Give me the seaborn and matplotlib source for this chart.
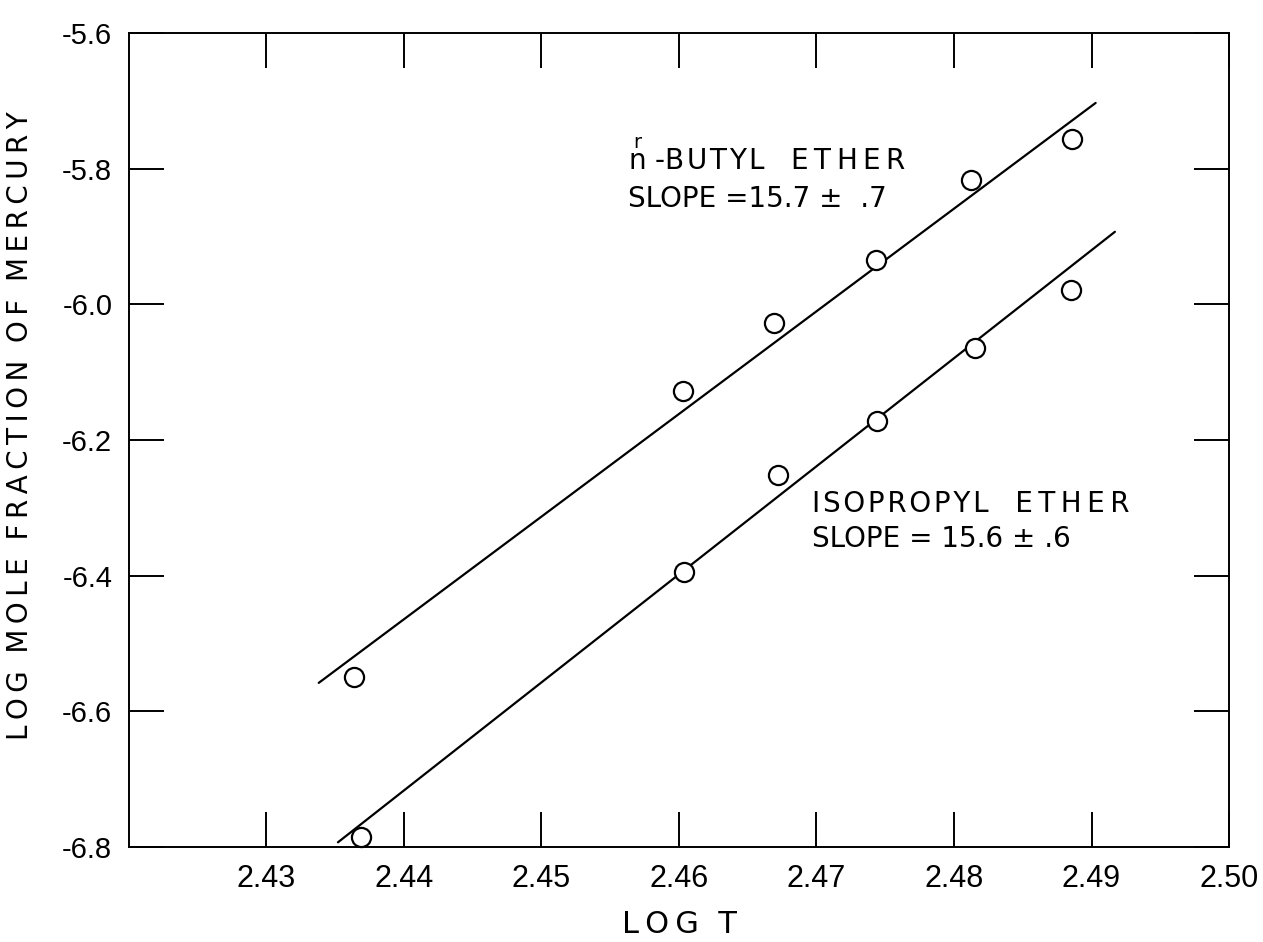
"""Log mole fraction of mercury vs log T for two ethers."""
import numpy as np
import pandas as pd
import seaborn as sns

from matplotlib import pyplot as plt


# points
log_t_butyl = [2.4364, 2.4603, 2.4669, 2.4743, 2.4812, 2.4886]
log_x_butyl = [-6.550, -6.128, -6.028, -5.935, -5.817, -5.756]
log_t_iso = [2.4369, 2.4604, 2.4672, 2.4744, 2.4815, 2.4885]
log_x_iso = [-6.785, -6.395, -6.252, -6.172, -6.064, -5.979]

# end points of the drawn fit lines
fit_t_butyl = [2.4338, 2.4903]
fit_x_butyl = [-6.558, -5.703]
fit_t_iso = [2.4352, 2.4917]
fit_x_iso = [-6.793, -5.893]

x_ticks = [2.43, 2.44, 2.45, 2.46, 2.47, 2.48, 2.49, 2.50]
y_ticks = [-5.6, -5.8, -6.0, -6.2, -6.4, -6.6, -6.8]

TS = "\u2009"  # thin space, used to letter-space the hand lettering
HS = "\u200a"  # hair space


def spaced(word, sep=TS):
    return sep.join(word)


def make_plot():
    sns.set_style("ticks")
    plt.rcParams["font.family"] = ["DejaVu Sans"]
    plt.rcParams["axes.unicode_minus"] = False
    plt.rcParams["mathtext.fontset"] = "dejavusans"
    for key in ["text.color", "axes.labelcolor", "xtick.color",
                "ytick.color", "axes.edgecolor"]:
        plt.rcParams[key] = "black"

    df_pts = pd.concat([
        pd.DataFrame({"t": log_t_butyl, "x": log_x_butyl, "ether": "butyl"}),
        pd.DataFrame({"t": log_t_iso, "x": log_x_iso, "ether": "iso"}),
    ])
    df_fit = pd.concat([
        pd.DataFrame({"t": fit_t_butyl, "x": fit_x_butyl, "ether": "butyl"}),
        pd.DataFrame({"t": fit_t_iso, "x": fit_x_iso, "ether": "iso"}),
    ])

    fig = plt.figure(figsize=(12.63, 9.42), dpi=100)
    ax = fig.add_axes([0.1021, 0.1008, 0.8710, 0.8641])

    sns.lineplot(
        data=df_fit, x="t", y="x", units="ether", estimator=None,
        color="black", linewidth=1.6, ax=ax, legend=False,
    )
    sns.scatterplot(
        data=df_pts, x="t", y="x", s=190, marker="o",
        facecolor="white", edgecolor="black", linewidth=1.6,
        ax=ax, legend=False, zorder=3, clip_on=False,
    )

    ax.set_xlim(2.42, 2.50)
    ax.set_ylim(-6.8, -5.6)
    ax.set_xticks(x_ticks)
    ax.set_xticklabels([f"{v:.2f}" for v in x_ticks])
    ax.set_yticks(y_ticks)
    ax.set_yticklabels([f"{v:.1f}" for v in y_ticks])

    ax.tick_params(
        direction="in", length=25, width=1.4, top=True, right=True,
        labeltop=False, labelright=False, pad=12,
    )
    ax.tick_params(axis="x", labelsize=22)
    ax.tick_params(axis="y", labelsize=21)
    for lab in ax.get_xticklabels() + ax.get_yticklabels():
        lab.set_family("Liberation Sans")
    for sp in ax.spines.values():
        sp.set_linewidth(1.4)

    ax.set_xlabel(spaced("LOG") + "  T", fontsize=22, labelpad=12)
    ylab = "  ".join(spaced(w) for w in
                     ["LOG", "MOLE", "FRACTION", "OF", "MERCURY"])
    ax.set_ylabel(ylab, fontsize=20, labelpad=20)
    ax.yaxis.label.set_y(0.518)

    txt = dict(fontsize=20, color="black", va="baseline", ha="left")
    ax.text(2.4563, -5.802,
            r"$\overset{\mathrm{r}}{\mathrm{n}}$ -" + spaced("BUTYL", HS)
            + "   " + spaced("ETHER"),
            **txt)
    ax.text(2.4563, -5.8565, "SLOPE =15.7 ±  .7", **txt)
    ax.text(2.4697, -6.306,
            spaced("ISOPROPYL", HS) + "   " + spaced("ETHER"), **txt)
    ax.text(2.4697, -6.358, "SLOPE = 15.6 ± .6", **txt)

    plt.savefig("out.png", dpi=100, facecolor="w")
    plt.close("all")


if __name__ == "__main__":
    make_plot()
